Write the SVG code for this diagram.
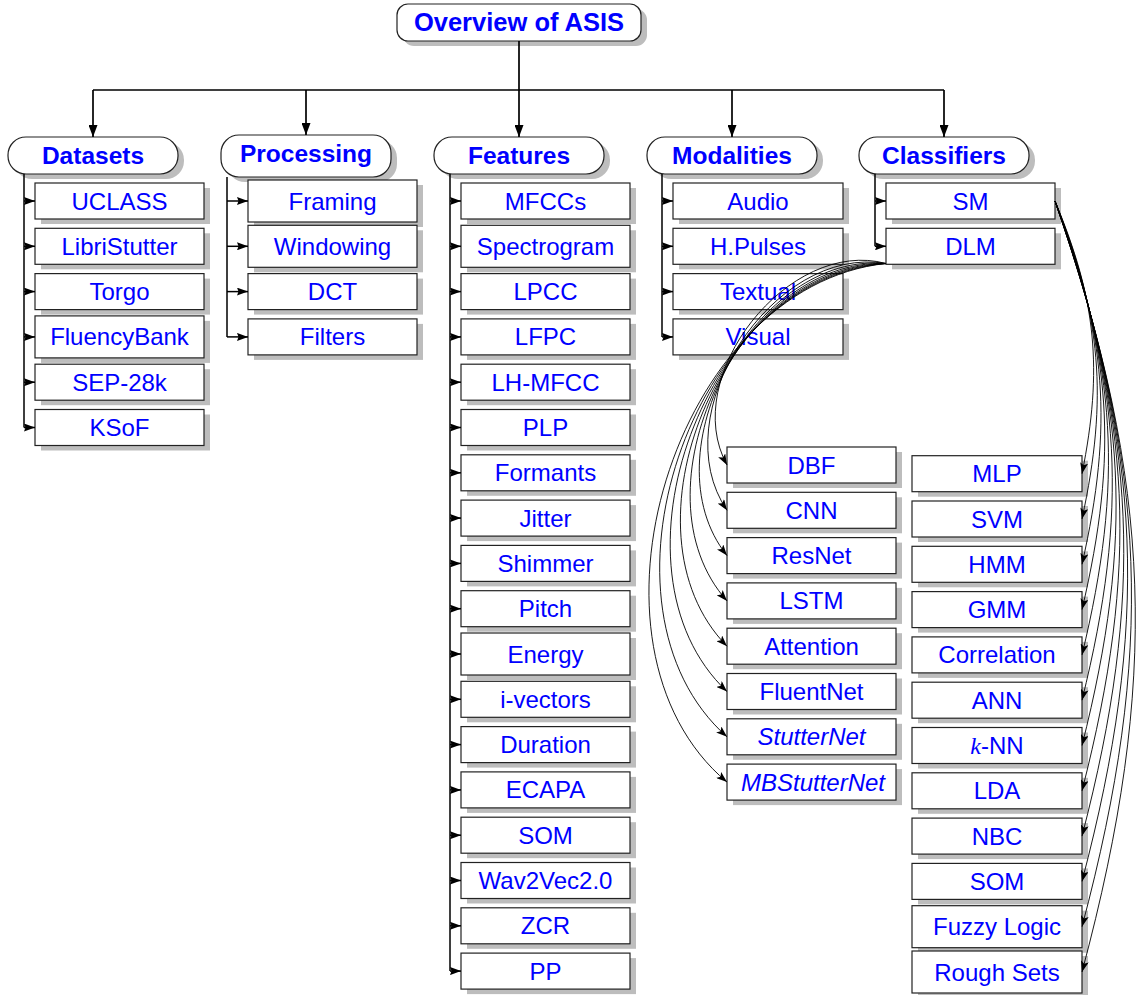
<svg xmlns="http://www.w3.org/2000/svg" width="1141" height="995" viewBox="0 0 1141 995">
<style>
.sh{fill:#bdbdbd}
.bx{fill:#fff;stroke:#222;stroke-width:1.2}
.t{font-family:"Liberation Sans",Arial,sans-serif;font-size:24px;fill:#0000ff;text-anchor:middle}
.h{font-weight:bold;font-size:24.5px}
.i{font-style:italic}
.tr{stroke:#000;stroke-width:1.7;fill:none}
.ch{stroke:#000;stroke-width:1.5;fill:none}
.cv{stroke:#000;stroke-width:0.9;fill:none}
</style>
<defs>
<marker id="ah" markerUnits="userSpaceOnUse" markerWidth="12" markerHeight="9" refX="12" refY="4.5" orient="auto"><path d="M0,0 L12,4.5 L0,9 z" fill="#000"/></marker>
<marker id="as" markerUnits="userSpaceOnUse" markerWidth="11" markerHeight="8" refX="11" refY="4" orient="auto"><path d="M0,0 L11,4 L0,8 L1.5,4 z" fill="#000"/></marker>
<marker id="ac" markerUnits="userSpaceOnUse" markerWidth="11" markerHeight="8" refX="11" refY="4" orient="auto"><path d="M0,0 L11,4 L0,8 L2.5,4 z" fill="#000"/></marker>
</defs>

<g id="root"><rect class="sh" x="403" y="9" width="244" height="37" rx="11"/><rect class="bx" x="397" y="4" width="244" height="37" rx="11"/><text class="t h" x="519" y="31" style="font-size:25.5px">Overview of ASIS</text></g>

<g id="datasets"><rect class="sh" x="14" y="142" width="170" height="37" rx="18"/><rect class="bx" x="8" y="137" width="170" height="37" rx="18"/><text class="t h" x="93" y="164">Datasets</text></g>
<g id="processing"><rect class="sh" x="227" y="140" width="170" height="42" rx="18"/><rect class="bx" x="221" y="135" width="170" height="42" rx="18"/><text class="t h" x="306" y="162">Processing</text></g>
<g id="features"><rect class="sh" x="440" y="142" width="170" height="37" rx="18"/><rect class="bx" x="434" y="137" width="170" height="37" rx="18"/><text class="t h" x="519" y="164">Features</text></g>
<g id="modalities"><rect class="sh" x="653" y="142" width="170" height="37" rx="18"/><rect class="bx" x="647" y="137" width="170" height="37" rx="18"/><text class="t h" x="732" y="164">Modalities</text></g>
<g id="classifiers"><rect class="sh" x="865" y="142" width="170" height="37" rx="18"/><rect class="bx" x="859" y="137" width="170" height="37" rx="18"/><text class="t h" x="944" y="164">Classifiers</text></g>

<!-- Datasets children -->
<g id="uclass"><rect class="sh" x="41" y="188" width="169" height="36"/><rect class="bx" x="35" y="183" width="169" height="36"/><text class="t" x="119.5" y="209.5">UCLASS</text></g>
<g id="libristutter"><rect class="sh" x="41" y="233.3" width="169" height="36"/><rect class="bx" x="35" y="228.3" width="169" height="36"/><text class="t" x="119.5" y="254.8">LibriStutter</text></g>
<g id="torgo"><rect class="sh" x="41" y="278.6" width="169" height="36"/><rect class="bx" x="35" y="273.6" width="169" height="36"/><text class="t" x="119.5" y="300.1">Torgo</text></g>
<g id="fluencybank"><rect class="sh" x="41" y="320.9" width="169" height="42"/><rect class="bx" x="35" y="315.9" width="169" height="42"/><text class="t" x="119.5" y="345.4">FluencyBank</text></g>
<g id="sep28k"><rect class="sh" x="41" y="369.2" width="169" height="36"/><rect class="bx" x="35" y="364.2" width="169" height="36"/><text class="t" x="119.5" y="390.7">SEP-28k</text></g>
<g id="ksof"><rect class="sh" x="41" y="414.5" width="169" height="36"/><rect class="bx" x="35" y="409.5" width="169" height="36"/><text class="t" x="119.5" y="436">KSoF</text></g>

<!-- Processing children -->
<g id="framing"><rect class="sh" x="254" y="185" width="169" height="42"/><rect class="bx" x="248" y="180" width="169" height="42"/><text class="t" x="332.5" y="209.5">Framing</text></g>
<g id="windowing"><rect class="sh" x="254" y="230.3" width="169" height="42"/><rect class="bx" x="248" y="225.3" width="169" height="42"/><text class="t" x="332.5" y="254.8">Windowing</text></g>
<g id="dct"><rect class="sh" x="254" y="278.6" width="169" height="36"/><rect class="bx" x="248" y="273.6" width="169" height="36"/><text class="t" x="332.5" y="300.1">DCT</text></g>
<g id="filters"><rect class="sh" x="254" y="323.9" width="169" height="36"/><rect class="bx" x="248" y="318.9" width="169" height="36"/><text class="t" x="332.5" y="345.4">Filters</text></g>

<!-- Features children -->
<g id="mfccs"><rect class="sh" x="467" y="188" width="169" height="36"/><rect class="bx" x="461" y="183" width="169" height="36"/><text class="t" x="545.5" y="209.5">MFCCs</text></g>
<g id="spectrogram"><rect class="sh" x="467" y="230.3" width="169" height="42"/><rect class="bx" x="461" y="225.3" width="169" height="42"/><text class="t" x="545.5" y="254.8">Spectrogram</text></g>
<g id="lpcc"><rect class="sh" x="467" y="278.6" width="169" height="36"/><rect class="bx" x="461" y="273.6" width="169" height="36"/><text class="t" x="545.5" y="300.1">LPCC</text></g>
<g id="lfpc"><rect class="sh" x="467" y="323.9" width="169" height="36"/><rect class="bx" x="461" y="318.9" width="169" height="36"/><text class="t" x="545.5" y="345.4">LFPC</text></g>
<g id="lhmfcc"><rect class="sh" x="467" y="369.2" width="169" height="36"/><rect class="bx" x="461" y="364.2" width="169" height="36"/><text class="t" x="545.5" y="390.7">LH-MFCC</text></g>
<g id="plp"><rect class="sh" x="467" y="414.5" width="169" height="36"/><rect class="bx" x="461" y="409.5" width="169" height="36"/><text class="t" x="545.5" y="436">PLP</text></g>
<g id="formants"><rect class="sh" x="467" y="459.8" width="169" height="36"/><rect class="bx" x="461" y="454.8" width="169" height="36"/><text class="t" x="545.5" y="481.3">Formants</text></g>
<g id="jitter"><rect class="sh" x="467" y="505.1" width="169" height="36"/><rect class="bx" x="461" y="500.1" width="169" height="36"/><text class="t" x="545.5" y="526.6">Jitter</text></g>
<g id="shimmer"><rect class="sh" x="467" y="550.4" width="169" height="36"/><rect class="bx" x="461" y="545.4" width="169" height="36"/><text class="t" x="545.5" y="571.9">Shimmer</text></g>
<g id="pitch"><rect class="sh" x="467" y="595.7" width="169" height="36"/><rect class="bx" x="461" y="590.7" width="169" height="36"/><text class="t" x="545.5" y="617.2">Pitch</text></g>
<g id="energy"><rect class="sh" x="467" y="638" width="169" height="42"/><rect class="bx" x="461" y="633" width="169" height="42"/><text class="t" x="545.5" y="662.5">Energy</text></g>
<g id="ivectors"><rect class="sh" x="467" y="686.3" width="169" height="36"/><rect class="bx" x="461" y="681.3" width="169" height="36"/><text class="t" x="545.5" y="707.8">i-vectors</text></g>
<g id="duration"><rect class="sh" x="467" y="731.6" width="169" height="36"/><rect class="bx" x="461" y="726.6" width="169" height="36"/><text class="t" x="545.5" y="753.1">Duration</text></g>
<g id="ecapa"><rect class="sh" x="467" y="776.9" width="169" height="36"/><rect class="bx" x="461" y="771.9" width="169" height="36"/><text class="t" x="545.5" y="798.4">ECAPA</text></g>
<g id="som-f"><rect class="sh" x="467" y="822.2" width="169" height="36"/><rect class="bx" x="461" y="817.2" width="169" height="36"/><text class="t" x="545.5" y="843.7">SOM</text></g>
<g id="wav2vec"><rect class="sh" x="467" y="867.5" width="169" height="36"/><rect class="bx" x="461" y="862.5" width="169" height="36"/><text class="t" x="545.5" y="889">Wav2Vec2.0</text></g>
<g id="zcr"><rect class="sh" x="467" y="912.8" width="169" height="36"/><rect class="bx" x="461" y="907.8" width="169" height="36"/><text class="t" x="545.5" y="934.3">ZCR</text></g>
<g id="pp"><rect class="sh" x="467" y="958.1" width="169" height="36"/><rect class="bx" x="461" y="953.1" width="169" height="36"/><text class="t" x="545.5" y="979.6">PP</text></g>

<!-- Modalities children -->
<g id="audio"><rect class="sh" x="679" y="188" width="170" height="36"/><rect class="bx" x="673" y="183" width="170" height="36"/><text class="t" x="758" y="209.5">Audio</text></g>
<g id="hpulses"><rect class="sh" x="679" y="233.3" width="170" height="36"/><rect class="bx" x="673" y="228.3" width="170" height="36"/><text class="t" x="758" y="254.8">H.Pulses</text></g>
<g id="textual"><rect class="sh" x="679" y="278.6" width="170" height="36"/><rect class="bx" x="673" y="273.6" width="170" height="36"/><text class="t" x="758" y="300.1">Textual</text></g>
<g id="visual"><rect class="sh" x="679" y="323.9" width="170" height="36"/><rect class="bx" x="673" y="318.9" width="170" height="36"/><text class="t" x="758" y="345.4">Visual</text></g>

<!-- Classifiers children -->
<g id="sm"><rect class="sh" x="892" y="188" width="169" height="36"/><rect class="bx" x="886" y="183" width="169" height="36"/><text class="t" x="970.5" y="209.5">SM</text></g>
<g id="dlm"><rect class="sh" x="892" y="233.3" width="169" height="36"/><rect class="bx" x="886" y="228.3" width="169" height="36"/><text class="t" x="970.5" y="254.8">DLM</text></g>

<!-- DLM children -->
<g id="dbf"><rect class="sh" x="733" y="452" width="169" height="36"/><rect class="bx" x="727" y="447" width="169" height="36"/><text class="t" x="811.5" y="473.5">DBF</text></g>
<g id="cnn"><rect class="sh" x="733" y="497.3" width="169" height="36"/><rect class="bx" x="727" y="492.3" width="169" height="36"/><text class="t" x="811.5" y="518.8">CNN</text></g>
<g id="resnet"><rect class="sh" x="733" y="542.6" width="169" height="36"/><rect class="bx" x="727" y="537.6" width="169" height="36"/><text class="t" x="811.5" y="564.1">ResNet</text></g>
<g id="lstm"><rect class="sh" x="733" y="587.9" width="169" height="36"/><rect class="bx" x="727" y="582.9" width="169" height="36"/><text class="t" x="811.5" y="609.4">LSTM</text></g>
<g id="attention"><rect class="sh" x="733" y="633.2" width="169" height="36"/><rect class="bx" x="727" y="628.2" width="169" height="36"/><text class="t" x="811.5" y="654.7">Attention</text></g>
<g id="fluentnet"><rect class="sh" x="733" y="678.5" width="169" height="36"/><rect class="bx" x="727" y="673.5" width="169" height="36"/><text class="t" x="811.5" y="700">FluentNet</text></g>
<g id="stutternet"><rect class="sh" x="733" y="723.8" width="169" height="36"/><rect class="bx" x="727" y="718.8" width="169" height="36"/><text class="t i" x="811.5" y="745.3">StutterNet</text></g>
<g id="mbstutternet"><rect class="sh" x="733" y="769.1" width="169" height="36"/><rect class="bx" x="727" y="764.1" width="169" height="36"/><text class="t i" x="813" y="790.6">MBStutterNet</text></g>

<!-- SM children -->
<g id="mlp"><rect class="sh" x="918" y="460.7" width="170" height="36"/><rect class="bx" x="912" y="455.7" width="170" height="36"/><text class="t" x="997" y="482.2">MLP</text></g>
<g id="svm"><rect class="sh" x="918" y="506" width="170" height="36"/><rect class="bx" x="912" y="501" width="170" height="36"/><text class="t" x="997" y="527.5">SVM</text></g>
<g id="hmm"><rect class="sh" x="918" y="551.3" width="170" height="36"/><rect class="bx" x="912" y="546.3" width="170" height="36"/><text class="t" x="997" y="572.8">HMM</text></g>
<g id="gmm"><rect class="sh" x="918" y="596.6" width="170" height="36"/><rect class="bx" x="912" y="591.6" width="170" height="36"/><text class="t" x="997" y="618.1">GMM</text></g>
<g id="correlation"><rect class="sh" x="918" y="641.9" width="170" height="36"/><rect class="bx" x="912" y="636.9" width="170" height="36"/><text class="t" x="997" y="663.4">Correlation</text></g>
<g id="ann"><rect class="sh" x="918" y="687.2" width="170" height="36"/><rect class="bx" x="912" y="682.2" width="170" height="36"/><text class="t" x="997" y="708.7">ANN</text></g>
<g id="knn"><rect class="sh" x="918" y="732.5" width="170" height="36"/><rect class="bx" x="912" y="727.5" width="170" height="36"/><text class="t" x="997" y="754"><tspan style="font-family:'Liberation Serif',serif;font-style:italic">k</tspan>-NN</text></g>
<g id="lda"><rect class="sh" x="918" y="777.8" width="170" height="36"/><rect class="bx" x="912" y="772.8" width="170" height="36"/><text class="t" x="997" y="799.3">LDA</text></g>
<g id="nbc"><rect class="sh" x="918" y="823.1" width="170" height="36"/><rect class="bx" x="912" y="818.1" width="170" height="36"/><text class="t" x="997" y="844.6">NBC</text></g>
<g id="som-c"><rect class="sh" x="918" y="868.4" width="170" height="36"/><rect class="bx" x="912" y="863.4" width="170" height="36"/><text class="t" x="997" y="889.9">SOM</text></g>
<g id="fuzzylogic"><rect class="sh" x="918" y="910.7" width="170" height="42"/><rect class="bx" x="912" y="905.7" width="170" height="42"/><text class="t" x="997" y="935.2">Fuzzy Logic</text></g>
<g id="roughsets"><rect class="sh" x="918" y="956" width="170" height="42"/><rect class="bx" x="912" y="951" width="170" height="42"/><text class="t" x="997" y="980.5">Rough Sets</text></g>

<g id="connectors">
<path class="tr" d="M519,41 V90 M93,90 H944"/>
<path class="tr" d="M93,90 V137" marker-end="url(#ah)"/>
<path class="tr" d="M306,90 V135" marker-end="url(#ah)"/>
<path class="tr" d="M519,90 V137" marker-end="url(#ah)"/>
<path class="tr" d="M732,90 V137" marker-end="url(#ah)"/>
<path class="tr" d="M944,90 V137" marker-end="url(#ah)"/>

<path class="ch" d="M24,174 V427.5 M227,177 V336.9 M450,174 V971.1 M662,174 V336.9 M875,174 V246.3"/>
<path class="ch" d="M24,201 H35" marker-end="url(#as)"/>
<path class="ch" d="M24,246.3 H35" marker-end="url(#as)"/>
<path class="ch" d="M24,291.6 H35" marker-end="url(#as)"/>
<path class="ch" d="M24,336.9 H35" marker-end="url(#as)"/>
<path class="ch" d="M24,382.2 H35" marker-end="url(#as)"/>
<path class="ch" d="M24,427.5 H35" marker-end="url(#as)"/>

<path class="ch" d="M227,201 H248" marker-end="url(#as)"/>
<path class="ch" d="M227,246.3 H248" marker-end="url(#as)"/>
<path class="ch" d="M227,291.6 H248" marker-end="url(#as)"/>
<path class="ch" d="M227,336.9 H248" marker-end="url(#as)"/>

<path class="ch" d="M450,201 H461" marker-end="url(#as)"/>
<path class="ch" d="M450,246.3 H461" marker-end="url(#as)"/>
<path class="ch" d="M450,291.6 H461" marker-end="url(#as)"/>
<path class="ch" d="M450,336.9 H461" marker-end="url(#as)"/>
<path class="ch" d="M450,382.2 H461" marker-end="url(#as)"/>
<path class="ch" d="M450,427.5 H461" marker-end="url(#as)"/>
<path class="ch" d="M450,472.8 H461" marker-end="url(#as)"/>
<path class="ch" d="M450,518.1 H461" marker-end="url(#as)"/>
<path class="ch" d="M450,563.4 H461" marker-end="url(#as)"/>
<path class="ch" d="M450,608.7 H461" marker-end="url(#as)"/>
<path class="ch" d="M450,654 H461" marker-end="url(#as)"/>
<path class="ch" d="M450,699.3 H461" marker-end="url(#as)"/>
<path class="ch" d="M450,744.6 H461" marker-end="url(#as)"/>
<path class="ch" d="M450,789.9 H461" marker-end="url(#as)"/>
<path class="ch" d="M450,835.2 H461" marker-end="url(#as)"/>
<path class="ch" d="M450,880.5 H461" marker-end="url(#as)"/>
<path class="ch" d="M450,925.8 H461" marker-end="url(#as)"/>
<path class="ch" d="M450,971.1 H461" marker-end="url(#as)"/>

<path class="ch" d="M662,201 H673" marker-end="url(#as)"/>
<path class="ch" d="M662,246.3 H673" marker-end="url(#as)"/>
<path class="ch" d="M662,291.6 H673" marker-end="url(#as)"/>
<path class="ch" d="M662,336.9 H673" marker-end="url(#as)"/>

<path class="ch" d="M875,201 H886" marker-end="url(#as)"/>
<path class="ch" d="M875,246.3 H886" marker-end="url(#as)"/>

<!-- DLM -> deep models -->
<path class="cv" d="M886,263.5 C788.9,237.1 678.5,376.8 727,465" marker-end="url(#ac)"/>
<path class="cv" d="M886,263.5 C772.6,244 662.2,415.2 727,510.3" marker-end="url(#ac)"/>
<path class="cv" d="M886,263.5 C756.2,251 645.8,453.5 727,555.6" marker-end="url(#ac)"/>
<path class="cv" d="M886,263.5 C739.9,257.9 629.6,491.9 727,600.9" marker-end="url(#ac)"/>
<path class="cv" d="M886,263.5 C723.6,264.8 613.3,530.3 727,646.2" marker-end="url(#ac)"/>
<path class="cv" d="M886,263.5 C707.3,271.7 596.9,568.7 727,691.5" marker-end="url(#ac)"/>
<path class="cv" d="M886,263.5 C690.9,278.6 580.6,607 727,736.8" marker-end="url(#ac)"/>
<path class="cv" d="M886,263.5 C674.6,285.6 564.3,645.5 727,782.1" marker-end="url(#ac)"/>

<!-- SM -> statistical models -->
<path class="cv" d="M1055,201 C1096.3,300 1103.1,368.5 1082,473.7" marker-end="url(#ac)"/>
<path class="cv" d="M1055,201 C1101.5,316.9 1108.3,396.9 1082,519" marker-end="url(#ac)"/>
<path class="cv" d="M1055,201 C1106.7,333.9 1113.5,425.2 1082,564.3" marker-end="url(#ac)"/>
<path class="cv" d="M1055,201 C1111.9,350.9 1118.7,453.5 1082,609.6" marker-end="url(#ac)"/>
<path class="cv" d="M1055,201 C1117.1,367.8 1123.8,481.9 1082,654.9" marker-end="url(#ac)"/>
<path class="cv" d="M1055,201 C1122.3,384.8 1129,510.2 1082,700.2" marker-end="url(#ac)"/>
<path class="cv" d="M1055,201 C1127.4,401.7 1134.2,538.6 1082,745.5" marker-end="url(#ac)"/>
<path class="cv" d="M1055,201 C1132.6,418.7 1139.4,566.9 1082,790.8" marker-end="url(#ac)"/>
<path class="cv" d="M1055,201 C1137.8,435.7 1144.6,595.2 1082,836.1" marker-end="url(#ac)"/>
<path class="cv" d="M1055,201 C1143,452.7 1149.8,623.6 1082,881.4" marker-end="url(#ac)"/>
<path class="cv" d="M1055,201 C1148.2,469.6 1155,651.9 1082,926.7" marker-end="url(#ac)"/>
<path class="cv" d="M1055,201 C1153.4,486.5 1160.1,680.3 1082,972" marker-end="url(#ac)"/>
</g>
</svg>
